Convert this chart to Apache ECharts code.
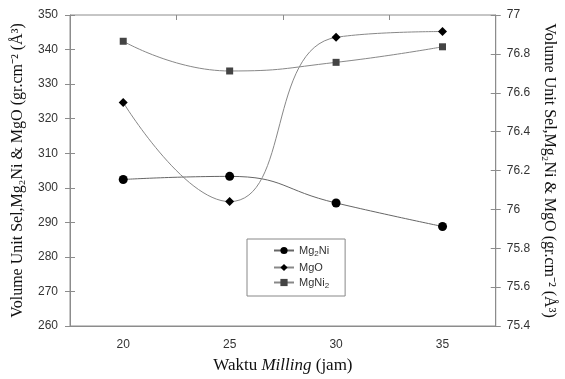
<!DOCTYPE html>
<html>
<head>
<meta charset="utf-8">
<script src="https://cdn.jsdelivr.net/npm/echarts@6/dist/echarts.min.js"></script>
<style>
  html, body { margin: 0; padding: 0; background: #fff; }
  #chart { width: 565px; height: 379px; }
</style>
</head>
<body>
<div id="chart"></div>
<script>
// waktu milling (jam)
const hours = ['20', '25', '30', '35'];
// volume unit sel, sumbu kiri
const mg2ni = [302.4, 303.3, 295.6, 288.8];
const mgni2 = [342.4, 333.8, 336.3, 340.8];
// volume unit sel MgO, sumbu kanan
const mgo = [76.55, 76.04, 76.885, 76.915];

const axisGray = '#8c8c8c';
const serif = '"Liberation Serif", "Times New Roman", serif';
const sans = '"Liberation Sans", Arial, sans-serif';
const yTitle = 'Volume Unit Sel,Mg\u2082Ni & MgO (gr.cm\u207B\u00B2 (\u00C5\u00B3)';

const chart = echarts.init(document.getElementById('chart'));

const fmtRight = function (v) {
    return String(+v.toFixed(1));
};

// sumbu ganda cuma buat tick yang menyilang
const tickOnly = function (extra) {
    return Object.assign({
        axisLine: {show: false},
        axisLabel: {show: false},
        splitLine: {show: false},
        axisTick: {show: true, inside: true, length: 5, lineStyle: {color: axisGray}}
    }, extra);
};

const option = {
    backgroundColor: '#fff',
    animation: false,
    grid: {
        left: 70, right: 63, top: 15, bottom: 53,
        show: true, borderColor: axisGray, borderWidth: 1
    },
    legend: {
        orient: 'vertical',
        left: 247, top: 239,
        padding: [6, 16, 6, 26],
        itemGap: 4,
        itemWidth: 20, itemHeight: 9,
        borderColor: '#888', borderWidth: 1,
        data: ['Mg2Ni', 'MgO', 'MgNi2'],
        formatter: function (name) {
            return {Mg2Ni: 'Mg{s|2}Ni', MgO: 'MgO', MgNi2: 'MgNi{s|2}'}[name];
        },
        textStyle: {
            fontFamily: sans, fontSize: 11, color: '#333',
            rich: {s: {fontFamily: sans, fontSize: 8, color: '#333', padding: [7, 0, 0, 0]}}
        }
    },
    xAxis: [{
        type: 'category',
        data: hours,
        boundaryGap: true,
        axisLine: {lineStyle: {color: axisGray}},
        axisTick: {length: 5, lineStyle: {color: axisGray}},
        axisLabel: {fontFamily: sans, fontSize: 12, color: '#333', margin: 13},
        name: '{a|Waktu }{i|Milling}{a| (jam)}',
        nameLocation: 'middle',
        nameGap: 31,
        nameTextStyle: {
            rich: {
                a: {fontFamily: serif, fontSize: 17, color: '#111'},
                i: {fontFamily: serif, fontSize: 17, fontStyle: 'italic', color: '#111'}
            }
        }
    }, tickOnly({type: 'category', data: hours, boundaryGap: true})],
    yAxis: [{
        type: 'value',
        position: 'left',
        min: 260, max: 350, interval: 10,
        axisLine: {show: true, lineStyle: {color: axisGray}},
        axisTick: {show: true, length: 5, lineStyle: {color: axisGray}},
        axisLabel: {fontFamily: sans, fontSize: 12, color: '#333', margin: 12},
        splitLine: {show: false},
        name: yTitle,
        nameLocation: 'middle',
        nameGap: 44,
        nameTextStyle: {fontFamily: serif, fontSize: 16, color: '#111'}
    }, {
        type: 'value',
        position: 'right',
        min: 75.4, max: 77, interval: 0.2,
        axisLine: {show: true, lineStyle: {color: axisGray}},
        axisTick: {show: true, length: 5, lineStyle: {color: axisGray}},
        axisLabel: {fontFamily: sans, fontSize: 12, color: '#333', margin: 11, formatter: fmtRight},
        splitLine: {show: false},
        name: yTitle,
        nameLocation: 'middle',
        nameRotate: -90,
        nameGap: 43,
        nameTextStyle: {fontFamily: serif, fontSize: 16, color: '#111'}
    },
        tickOnly({type: 'value', position: 'left', min: 260, max: 350, interval: 10}),
        tickOnly({type: 'value', position: 'right', min: 75.4, max: 77, interval: 0.2})
    ],
    series: [{
        name: 'Mg2Ni',
        type: 'line',
        data: mg2ni,
        smooth: 0.5,
        symbol: 'circle', symbolSize: 9,
        itemStyle: {color: '#000'},
        lineStyle: {color: '#666', width: 1}
    }, {
        name: 'MgO',
        type: 'line',
        yAxisIndex: 1,
        data: mgo,
        smooth: 0.5,
        symbol: 'diamond', symbolSize: 9,
        itemStyle: {color: '#000'},
        lineStyle: {color: '#888', width: 1}
    }, {
        name: 'MgNi2',
        type: 'line',
        data: mgni2,
        smooth: 0.5,
        symbol: 'rect', symbolSize: 7,
        itemStyle: {color: '#444'},
        lineStyle: {color: '#888', width: 1}
    }]
};

chart.setOption(option);
</script>
</body>
</html>
